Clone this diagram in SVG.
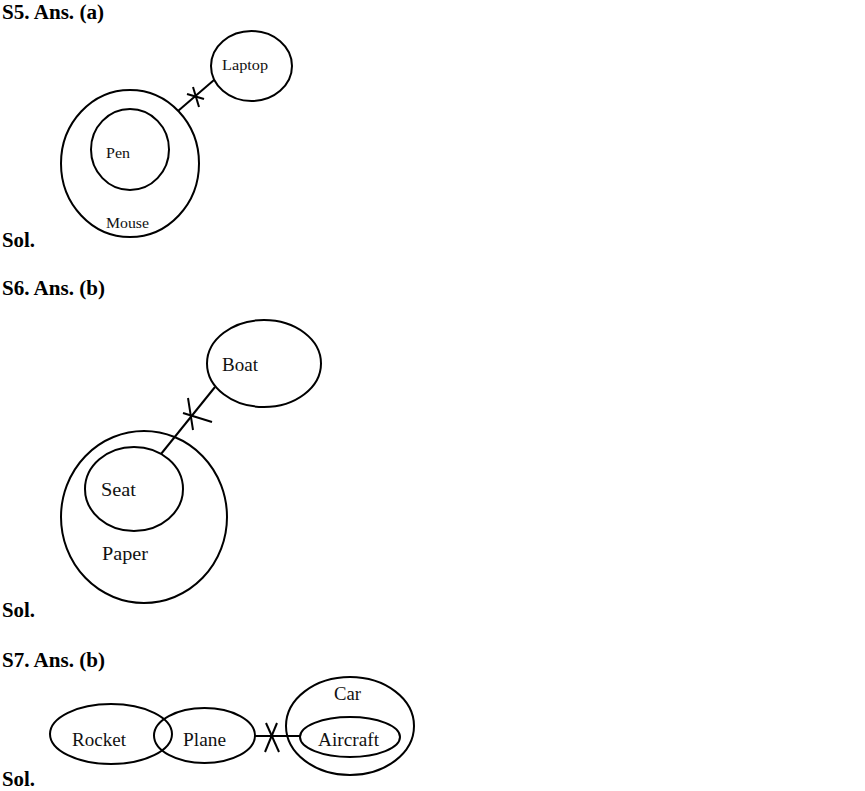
<svg xmlns="http://www.w3.org/2000/svg" width="865" height="791" viewBox="0 0 865 791">
<style>
.sh{fill:none;stroke:#000;stroke-width:2}
.h{font-family:"Liberation Serif","DejaVu Serif",serif;font-weight:bold;font-size:20.5px;fill:#000}
.t{font-family:"Liberation Serif","DejaVu Serif",serif;fill:#111}
</style>
<rect width="865" height="791" fill="#fff"/>
<text class="h" x="2" y="19" textLength="102" lengthAdjust="spacingAndGlyphs">S5. Ans. (a)</text>
<text class="h" x="2" y="247" textLength="33" lengthAdjust="spacingAndGlyphs">Sol.</text>
<text class="h" x="2" y="295" textLength="103" lengthAdjust="spacingAndGlyphs">S6. Ans. (b)</text>
<text class="h" x="2" y="617" textLength="33" lengthAdjust="spacingAndGlyphs">Sol.</text>
<text class="h" x="2" y="667" textLength="103" lengthAdjust="spacingAndGlyphs">S7. Ans. (b)</text>
<text class="h" x="2" y="786" textLength="33" lengthAdjust="spacingAndGlyphs">Sol.</text>

<g id="connectors" class="sh">
<line x1="178" y1="111" x2="214" y2="80"/>
<line x1="187" y1="94" x2="204" y2="99"/>
<line x1="193" y1="87" x2="199" y2="107"/>
<line x1="161" y1="454" x2="215" y2="387"/>
<line x1="183" y1="413" x2="212" y2="422"/>
<line x1="188" y1="398" x2="193" y2="430"/>
<line x1="255" y1="736" x2="300" y2="736"/>
<line x1="266" y1="723" x2="279" y2="752"/>
<line x1="265" y1="752" x2="277" y2="723"/>
</g>

<g id="mouse"><ellipse class="sh" cx="130" cy="163.5" rx="69" ry="73.5"/><text class="t" x="106" y="228" font-size="14" textLength="43" lengthAdjust="spacingAndGlyphs">Mouse</text></g>
<g id="pen"><ellipse class="sh" cx="130" cy="149.5" rx="39" ry="40.5"/><text class="t" x="106" y="158" font-size="14" textLength="24" lengthAdjust="spacingAndGlyphs">Pen</text></g>
<g id="laptop"><ellipse class="sh" cx="251.5" cy="66" rx="40.5" ry="35"/><text class="t" x="222" y="70" font-size="14" textLength="46" lengthAdjust="spacingAndGlyphs">Laptop</text></g>

<g id="boat"><ellipse class="sh" cx="264" cy="363.5" rx="57" ry="43.5"/><text class="t" x="222" y="371" font-size="18" textLength="36" lengthAdjust="spacingAndGlyphs">Boat</text></g>
<g id="paper"><ellipse class="sh" cx="144" cy="517" rx="83" ry="86"/><text class="t" x="102" y="560" font-size="18" textLength="46" lengthAdjust="spacingAndGlyphs">Paper</text></g>
<g id="seat"><ellipse class="sh" cx="134" cy="489" rx="49" ry="42"/><text class="t" x="101" y="496" font-size="18" textLength="35" lengthAdjust="spacingAndGlyphs">Seat</text></g>

<g id="rocket"><ellipse class="sh" cx="111" cy="734" rx="61" ry="30"/><text class="t" x="72" y="746" font-size="18" textLength="54" lengthAdjust="spacingAndGlyphs">Rocket</text></g>
<g id="plane"><ellipse class="sh" cx="204.5" cy="735.5" rx="50.5" ry="27.5"/><text class="t" x="183" y="746" font-size="18" textLength="43" lengthAdjust="spacingAndGlyphs">Plane</text></g>
<g id="car"><ellipse class="sh" cx="350" cy="726" rx="64" ry="49"/><text class="t" x="334" y="700" font-size="18" textLength="27" lengthAdjust="spacingAndGlyphs">Car</text></g>
<g id="aircraft"><ellipse class="sh" cx="350" cy="737" rx="50" ry="20"/><text class="t" x="318" y="746" font-size="18" textLength="61" lengthAdjust="spacingAndGlyphs">Aircraft</text></g>
</svg>
